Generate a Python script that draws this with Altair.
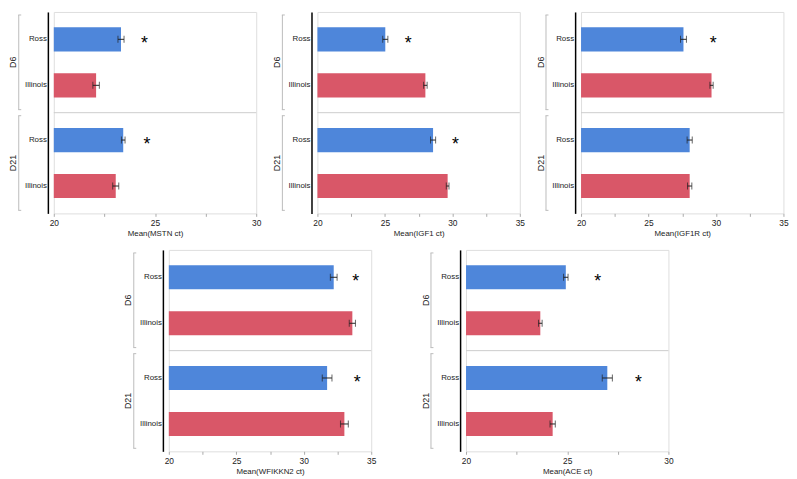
import altair as alt
import pandas as pd

# ---- data ----
genes = ["MSTN", "IGF1", "IGF1R", "WFIKKN2", "ACE"]
axis_max = [30, 35, 35, 35, 30]
days = ["D6", "D6", "D21", "D21"]
breeds = ["Ross", "Illinois", "Ross", "Illinois"]
means = {
    "MSTN":    [23.32, 22.09, 23.43, 23.06],
    "IGF1":    [25.03, 28.00, 28.57, 29.65],
    "IGF1R":   [27.59, 29.67, 28.05, 28.05],
    "WFIKKN2": [32.22, 33.60, 31.73, 33.01],
    "ACE":     [24.93, 23.67, 26.98, 24.28],
}
errors = {
    "MSTN":    [0.15, 0.16, 0.09, 0.15],
    "IGF1":    [0.19, 0.13, 0.19, 0.10],
    "IGF1R":   [0.22, 0.12, 0.19, 0.16],
    "WFIKKN2": [0.25, 0.23, 0.36, 0.29],
    "ACE":     [0.11, 0.09, 0.25, 0.13],
}
star_gene = ["MSTN", "MSTN", "IGF1", "IGF1", "IGF1R", "WFIKKN2", "WFIKKN2", "ACE", "ACE"]
star_day = ["D6", "D21", "D6", "D21", "D6", "D6", "D21", "D6", "D21"]
star_x = [24.48, 24.60, 26.73, 30.23, 29.79, 33.84, 33.96, 26.50, 28.52]

day_order = ["D6", "D21"]
breed_order = ["Ross", "Illinois"]

# ---- style ----
W, H = 205, 204
BLUE, RED = "#4e86da", "#d95768"
TXT = "#222222"
FONT = "Liberation Sans"


def panel(i):
    g = genes[i]
    df = pd.DataFrame({"Day": days, "Breed": breeds, "Mean": means[g], "SE": errors[g]})
    df["lo"] = df["Mean"] - df["SE"]
    df["hi"] = df["Mean"] + df["SE"]
    sdf = pd.DataFrame({
        "Day": [d for gg, d in zip(star_gene, star_day) if gg == g],
        "x": [x for gg, x in zip(star_gene, star_x) if gg == g],
    })
    sdf["Breed"] = "Ross"
    ddf = pd.DataFrame({"Day": day_order})
    sep = pd.DataFrame({"Day": ["D21"]})

    mx = axis_max[i]
    tick_vals = [20 + 2.5 * k for k in range(int((mx - 20) / 2.5) + 1)]
    xscale = alt.Scale(domain=[20, mx], nice=False, zero=False)
    xaxis = alt.Axis(
        title=f"Mean({g} ct)", values=tick_vals,
        labelExpr="datum.value % 5 == 0 ? datum.label : ''",
        grid=False, domain=False, tickSize=3, tickColor="#aaaaaa",
        labelFontSize=8.5, labelColor=TXT, labelPadding=2, labelFlush=False,
        titleFontSize=8, titleColor=TXT, titleFontWeight="normal", titlePadding=3,
    )
    yscale = alt.Scale(domain=day_order, paddingInner=0, paddingOuter=0)
    yaxis = alt.Axis(title=None, labels=False, ticks=False, tickSize=0, grid=False,
                     domainColor="black", domainWidth=1.5, offset=6)
    Y = alt.Y("Day:N", scale=yscale, axis=yaxis)
    YO = alt.YOffset("Breed:N", scale=alt.Scale(domain=breed_order, paddingInner=0.474, paddingOuter=0.332))

    base = alt.Chart(df)
    bars = base.mark_bar().encode(
        x=alt.X("Mean:Q", scale=xscale, axis=xaxis),
        x2=alt.datum(20),
        y=Y, yOffset=YO,
        color=alt.Color("Breed:N", scale=alt.Scale(domain=breed_order, range=[BLUE, RED]), legend=None),
    )
    err = base.mark_rule(color=TXT, strokeWidth=1).encode(
        x=alt.X("lo:Q", scale=xscale, axis=xaxis), x2="hi:Q", y=Y, yOffset=YO)
    cap_lo = base.mark_tick(color=TXT, size=7, thickness=1).encode(
        x=alt.X("lo:Q", scale=xscale, axis=xaxis), y=Y, yOffset=YO)
    cap_hi = base.mark_tick(color=TXT, size=7, thickness=1).encode(
        x=alt.X("hi:Q", scale=xscale, axis=xaxis), y=Y, yOffset=YO)
    stars = alt.Chart(sdf).mark_text(text="*", fontSize=18, color="black",
                                     baseline="middle", dy=5, font=FONT).encode(
        x=alt.X("x:Q", scale=xscale, axis=xaxis), y=Y, yOffset=YO)
    breed_lbl = base.mark_text(align="right", baseline="middle", fontSize=8, color=TXT, font=FONT).encode(
        x=alt.value(-7), y=Y, yOffset=YO, text="Breed:N")
    day_lbl = alt.Chart(ddf).mark_text(angle=270, align="center", baseline="middle", fontSize=9,
                                       color=TXT, font=FONT).encode(
        x=alt.value(-41), y=Y, text="Day:N")
    bracket = alt.Chart(ddf).mark_bar(height={"band": 0.94}, color="#bbbbbb").encode(
        x=alt.value(-36), x2=alt.value(-35), y=Y)
    cap_top = alt.Chart(ddf).mark_rule(color="#bbbbbb").encode(
        x=alt.value(-36), x2=alt.value(-33),
        y=alt.Y("Day:N", scale=yscale, axis=yaxis, bandPosition=0.03))
    cap_bot = alt.Chart(ddf).mark_rule(color="#bbbbbb").encode(
        x=alt.value(-36), x2=alt.value(-33),
        y=alt.Y("Day:N", scale=yscale, axis=yaxis, bandPosition=0.97))
    separator = alt.Chart(sep).mark_rule(color="#cccccc").encode(
        x=alt.value(0), x2=alt.value(W),
        y=alt.Y("Day:N", scale=yscale, axis=yaxis, bandPosition=0))

    return alt.layer(bars, err, cap_lo, cap_hi, stars, separator, breed_lbl, day_lbl,
                     bracket, cap_top, cap_bot).properties(width=W, height=H)


res = dict(x="independent", y="independent", yOffset="independent")
row1 = alt.hconcat(panel(0), panel(1), panel(2), spacing=10).resolve_scale(**res)
row2 = alt.hconcat(panel(3), panel(4), spacing=44).resolve_scale(**res)
chart = alt.vconcat(row1, row2, spacing=11, center=True).resolve_scale(**res).properties(
    padding=0
).configure_view(stroke="#c8c8c8", strokeWidth=1).configure(font=FONT, background="white")

chart.save("out.html", embed_options={"renderer": "svg", "actions": False})
